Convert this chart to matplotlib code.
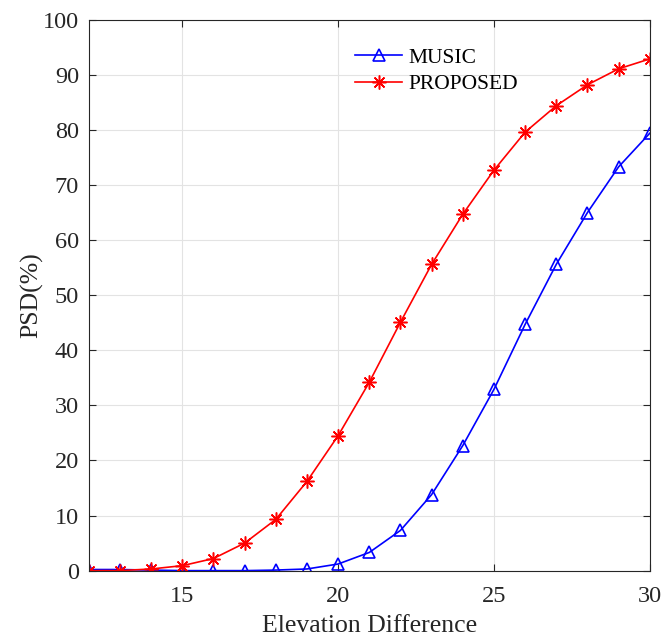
import matplotlib
matplotlib.use("Agg")
import matplotlib.pyplot as plt

# datos
elevation = list(range(12, 31))
music = [0.2, 0.2, 0.1, 0.0, 0.0, 0.0, 0.1, 0.3, 1.2, 3.3, 7.3, 13.8, 22.7, 32.9, 44.7, 55.6, 65.0, 73.3, 79.4]
proposed = [0.0, 0.0, 0.3, 0.9, 2.2, 5.0, 9.3, 16.2, 24.5, 34.2, 45.1, 55.6, 64.7, 72.7, 79.6, 84.4, 88.2, 91.1, 92.9]

plt.rcParams["font.family"] = "Liberation Serif"
txt = "#262626"

fig = plt.figure(figsize=(6.63, 6.39), dpi=100)
ax = fig.add_axes([0.134, 0.107, 0.846, 0.862])

ax.plot(elevation, music, color="blue", marker="^", markersize=9, markerfacecolor="none",
        markeredgewidth=1.2, linewidth=1.2, label="MUSIC")
ax.plot(elevation, proposed, color="red", marker=(8, 2, 0), markersize=10, markeredgewidth=1.1,
        linewidth=1.2, label="PROPOSED")

ax.set_xlim(12, 30)
ax.set_ylim(0, 100)
ax.set_xticks([15, 20, 25, 30])
ax.set_yticks(range(0, 101, 10))
ax.grid(True, color="#e3e3e3", linewidth=0.8)
ax.set_axisbelow(True)
ax.tick_params(direction="in", top=True, right=True, labelsize=17.5, length=5,
               labelcolor=txt, color=txt)
ax.tick_params(axis="x", pad=11)
ax.tick_params(axis="y", pad=7)
for s in ax.spines.values():
    s.set_linewidth(0.8)
    s.set_color(txt)

ax.set_xlabel("Elevation Difference", fontsize=18.5, labelpad=6, color=txt)
ax.set_ylabel("PSD(%)", fontsize=18.5, labelpad=0, color=txt)

leg = ax.legend(loc="upper left", bbox_to_anchor=(0.44, 0.985), frameon=False, fontsize=15.5,
                handlelength=2.2, handletextpad=0.3, labelspacing=0.3)
for t in leg.get_texts():
    t.set_color("black")

fig.savefig("out.png", dpi=100)
